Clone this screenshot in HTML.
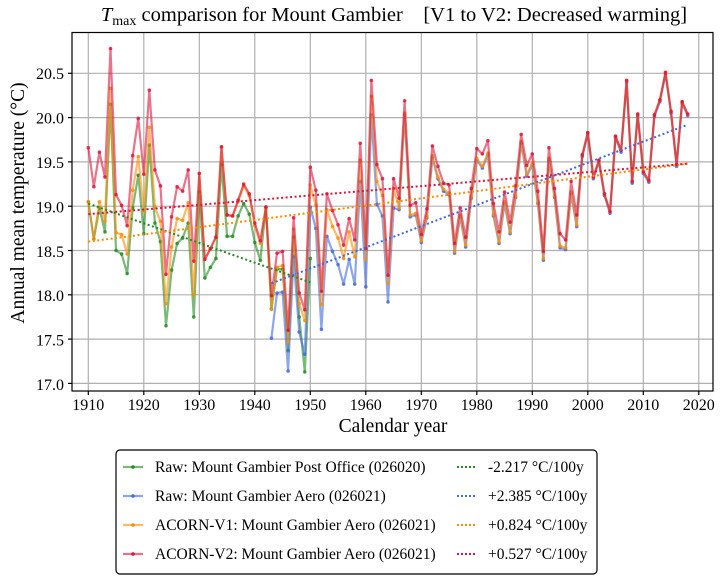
<!DOCTYPE html>
<html><head><meta charset="utf-8"><style>
html,body{margin:0;padding:0;background:#fff;width:726px;height:584px;overflow:hidden}
svg{font-family:"Liberation Serif",serif;}
</style></head><body>
<svg id="s" width="726" height="584" xmlns="http://www.w3.org/2000/svg">
<rect width="726" height="584" fill="#fff"/>
<g id="grid" stroke="#b0b0b0" stroke-width="1.2"></g>
<g id="data"></g>
<rect x="72" y="32.5" width="641" height="358.5" fill="none" stroke="#000" stroke-width="1.2"/>
<g font-size="16" fill="#000" text-anchor="end">
<text x="64" y="79">20.5</text><text x="64" y="123.5">20.0</text><text x="64" y="168">19.5</text>
<text x="64" y="212.5">19.0</text><text x="64" y="257">18.5</text><text x="64" y="301">18.0</text>
<text x="64" y="345.5">17.5</text><text x="64" y="390">17.0</text>
</g>
<g font-size="16" fill="#000" text-anchor="middle">
<text x="88.3" y="410">1910</text><text x="143.8" y="410">1920</text><text x="199.3" y="410">1930</text>
<text x="254.8" y="410">1940</text><text x="310.3" y="410">1950</text><text x="365.8" y="410">1960</text>
<text x="421.3" y="410">1970</text><text x="476.8" y="410">1980</text><text x="532.3" y="410">1990</text>
<text x="587.8" y="410">2000</text><text x="643.3" y="410">2010</text><text x="698.8" y="410">2020</text>
</g>
<text x="393" y="432" font-size="19.5" text-anchor="middle">Calendar year</text>
<text transform="translate(24,203) rotate(-90)" font-size="19.5" text-anchor="middle">Annual mean temperature (°C)</text>
<text x="394" y="21" font-size="20.5" text-anchor="middle" xml:space="preserve"><tspan font-style="italic">T</tspan><tspan font-size="14" dy="4">max</tspan><tspan dy="-4"> comparison for Mount Gambier    [V1 to V2: Decreased warming]</tspan></text>
<rect x="116" y="450" width="481" height="124" rx="4" fill="#fff" stroke="#000" stroke-width="1.2"/>
<g stroke-width="2.2" stroke-opacity="0.6">
<line x1="123" y1="467" x2="143" y2="467" stroke="#228b22"/><line x1="123" y1="496" x2="143" y2="496" stroke="#4169e1"/>
<line x1="123" y1="525" x2="143" y2="525" stroke="#ff8c00"/><line x1="123" y1="554" x2="143" y2="554" stroke="#dc143c"/>
</g>
<g><circle cx="133" cy="467" r="1.8" fill="#228b22"/><circle cx="133" cy="496" r="1.8" fill="#4169e1"/><circle cx="133" cy="525" r="1.8" fill="#ff8c00"/><circle cx="133" cy="554" r="1.8" fill="#dc143c"/></g>
<g stroke-width="2" stroke-dasharray="2,2">
<line x1="457" y1="467" x2="477" y2="467" stroke="#228b22"/><line x1="457" y1="496" x2="477" y2="496" stroke="#4169e1"/>
<line x1="457" y1="525" x2="477" y2="525" stroke="#ff8c00"/><line x1="457" y1="554" x2="477" y2="554" stroke="#dc143c"/>
</g>
<g font-size="15.5" fill="#000">
<text x="155" y="472">Raw: Mount Gambier Post Office (026020)</text>
<text x="155" y="501">Raw: Mount Gambier Aero (026021)</text>
<text x="155" y="530">ACORN-V1: Mount Gambier Aero (026021)</text>
<text x="155" y="559">ACORN-V2: Mount Gambier Aero (026021)</text>
<text x="488" y="472">-2.217 °C/100y</text>
<text x="488" y="501">+2.385 °C/100y</text>
<text x="488" y="530">+0.824 °C/100y</text>
<text x="488" y="559">+0.527 °C/100y</text>
</g>
</svg>
<script>
var NS="http://www.w3.org/2000/svg";
function X(y){return 88.3+(y-1910)*5.55;}
function Y(v){return 73.3+(20.5-v)*88.6;}
var g=document.getElementById('grid');
for(var yr=1910;yr<=2020;yr+=10){var l=document.createElementNS(NS,'line');l.setAttribute('x1',X(yr));l.setAttribute('x2',X(yr));l.setAttribute('y1',32.5);l.setAttribute('y2',391);g.appendChild(l);
var t=document.createElementNS(NS,'line');t.setAttribute('x1',X(yr));t.setAttribute('x2',X(yr));t.setAttribute('y1',391);t.setAttribute('y2',395);t.setAttribute('stroke','#000');g.appendChild(t);}
for(var v=17;v<=20.51;v+=0.5){var l=document.createElementNS(NS,'line');l.setAttribute('x1',72);l.setAttribute('x2',713);l.setAttribute('y1',Y(v));l.setAttribute('y2',Y(v));g.appendChild(l);
var t=document.createElementNS(NS,'line');t.setAttribute('x1',68);t.setAttribute('x2',72);t.setAttribute('y1',Y(v));t.setAttribute('y2',Y(v));t.setAttribute('stroke','#000');g.appendChild(t);}
var green=[19.05,18.63,18.98,18.71,20.15,18.50,18.46,18.24,18.98,19.35,18.69,19.69,18.81,18.60,17.65,18.28,18.58,18.64,18.81,17.75,19.16,18.19,18.31,18.41,19.47,18.66,18.66,18.89,19.03,18.91,18.59,18.39,18.99,17.84,18.29,18.29,17.37,18.65,17.75,17.13,18.41];
var red=[19.66,19.22,19.61,19.33,20.78,19.13,19.01,18.78,19.57,19.99,19.36,20.31,19.41,19.23,18.23,18.88,19.22,19.17,19.41,18.38,19.37,18.40,18.52,18.65,19.67,18.90,18.89,19.07,19.25,19.14,18.81,18.61,18.99,17.99,18.47,18.49,17.60,18.87,18.02,17.83,19.44,19.18,18.04,19.14,18.95,18.79,18.56,18.86,18.62,19.71,18.52,20.42,19.47,19.31,18.22,19.31,19.09,20.19,19.01,19.04,18.68,18.97,19.68,19.45,19.26,19.24,18.58,18.98,18.65,19.20,19.65,19.59,19.74,19.03,18.71,19.16,18.82,19.23,19.81,19.46,19.59,19.17,18.49,19.66,19.20,18.69,18.62,19.28,18.90,19.58,19.83,19.33,19.52,19.14,18.94,19.79,19.63,20.42,19.28,20.04,19.39,19.29,20.03,20.20,20.51,20.07,19.47,20.18,20.04];
var orange=[19.05,18.63,19.05,18.83,20.33,18.70,18.68,18.46,19.18,19.56,18.94,19.89,18.99,18.83,17.90,18.54,18.86,18.84,19.04,18.00,19.37,18.40,18.52,18.65,19.67,18.90,18.89,19.05,19.23,19.12,18.78,18.58,18.97,17.84,18.31,18.33,17.47,18.74,17.90,17.71,19.24,19.01,17.89,18.96,18.77,18.64,18.41,18.71,18.43,19.52,18.40,20.24,19.28,19.12,18.13];
var orLate=[19.20,18.98,20.05,18.90,18.92,18.61,18.89,19.57,19.33,19.19,19.15,18.49,18.90,18.56,19.11,19.54,19.45,19.60,18.91,18.60,19.05,18.71,19.12,19.73,19.36,19.49,19.05,18.41,19.54,19.12,18.55,18.53,19.16,18.79];
for(var i=0;i<orLate.length;i++)orange.push(orLate[i]);
for(var i=orange.length;i<red.length;i++)orange.push(red[i]);
var blue=[17.51,18.02,18.03,17.14,18.43,17.58,17.33,18.99,18.75,17.61,18.66,18.49,18.34,18.12,18.40,18.12,19.28,18.09,20.03,19.02,18.89,17.92,18.98];
for(var yr=1966;yr<=2018;yr++){blue.push(orange[yr-1910]-0.02);}
var d=document.getElementById('data');
function series(arr,start,col){var p=[];for(var i=0;i<arr.length;i++)p.push(X(start+i).toFixed(1)+','+Y(arr[i]).toFixed(1));
var pl=document.createElementNS(NS,'polyline');pl.setAttribute('points',p.join(' '));pl.setAttribute('fill','none');pl.setAttribute('stroke',col);pl.setAttribute('stroke-width','2.2');pl.setAttribute('stroke-opacity','0.6');pl.setAttribute('stroke-linejoin','round');d.appendChild(pl);
for(var i=0;i<arr.length;i++){var c=document.createElementNS(NS,'circle');c.setAttribute('cx',X(start+i));c.setAttribute('cy',Y(arr[i]));c.setAttribute('r',1.8);c.setAttribute('fill',col);c.setAttribute('fill-opacity','0.8');d.appendChild(c);}}
series(green,1910,'#228b22');series(blue,1943,'#4169e1');series(orange,1910,'#ff8c00');series(red,1910,'#dc143c');
function trend(y0,v0,y1,v1,col){var l=document.createElementNS(NS,'line');l.setAttribute('x1',X(y0));l.setAttribute('y1',Y(v0));l.setAttribute('x2',X(y1));l.setAttribute('y2',Y(v1));l.setAttribute('stroke',col);l.setAttribute('stroke-width','2');l.setAttribute('stroke-dasharray','2,2.5');d.appendChild(l);}
trend(1910,19.03,1950,18.14,'#228b22');trend(1943,18.13,2018,19.92,'#4169e1');trend(1910,18.60,2018,19.48,'#ff8c00');trend(1910,18.91,2018,19.48,'#dc143c');
</script>
</body></html>
